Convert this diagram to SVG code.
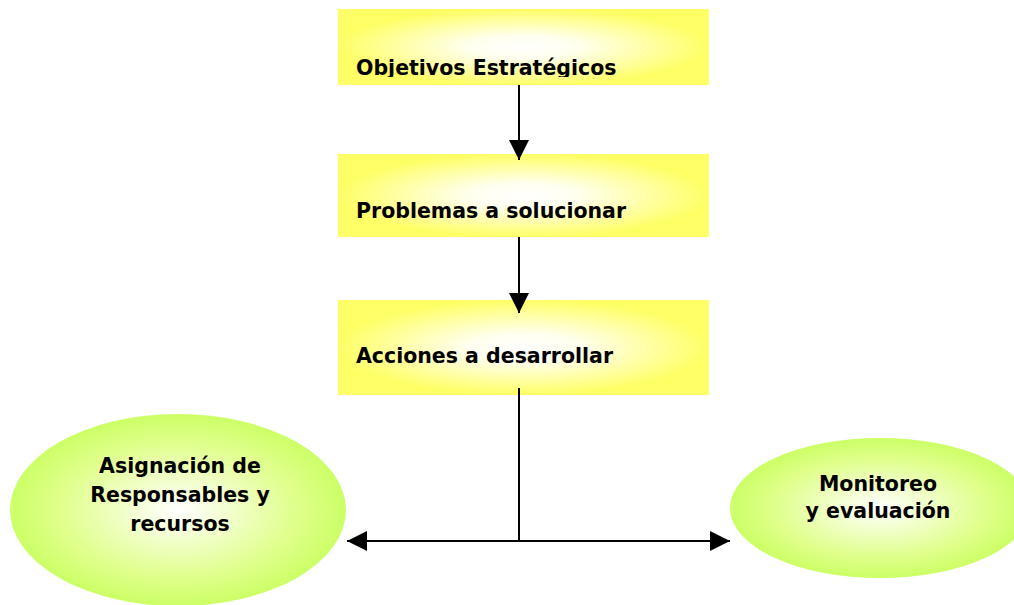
<svg xmlns="http://www.w3.org/2000/svg" width="1014" height="605" viewBox="0 0 1014 605">
<defs>
<radialGradient id="gy" cx="0.5" cy="0.5" r="0.5">
<stop offset="0" stop-color="#ffffff"/>
<stop offset="0.3" stop-color="#ffffee"/>
<stop offset="1" stop-color="#ffff66"/>
</radialGradient>
<radialGradient id="gg" cx="0.5" cy="0.5" r="0.5">
<stop offset="0" stop-color="#ffffff"/>
<stop offset="0.7" stop-color="#e0ff8c"/>
<stop offset="1" stop-color="#ccff66"/>
</radialGradient>
<marker id="ah" viewBox="0 0 10 10" refX="10" refY="5" markerWidth="20" markerHeight="20" markerUnits="userSpaceOnUse" orient="auto">
<path d="M0,0 L10,5 L0,10 Z" fill="#000"/>
</marker>
<clipPath id="c1"><rect x="338" y="9" width="371" height="68"/></clipPath>
</defs>
<style>
.t{font-family:"DejaVu Sans",Verdana,sans-serif;font-weight:bold;font-size:20.5px;fill:#000}
.c{text-anchor:middle}
.l{stroke:#000;stroke-width:2;fill:none}
</style>
<g id="n1">
<rect x="338" y="9" width="371" height="76" fill="url(#gy)"/>
<text class="t" x="356" y="75" clip-path="url(#c1)">Objetivos Estratégicos</text>
</g>
<g id="n2">
<rect x="338" y="154" width="371" height="83" fill="url(#gy)"/>
<text class="t" x="356" y="218">Problemas a solucionar</text>
</g>
<g id="n3">
<rect x="338" y="300" width="371" height="95" fill="url(#gy)"/>
<text class="t" x="356" y="363">Acciones a desarrollar</text>
</g>
<g id="n4">
<ellipse cx="178" cy="510" rx="168" ry="96" fill="url(#gg)"/>
<text class="t c" x="180" y="473">Asignación de</text>
<text class="t c" x="180" y="502">Responsables y</text>
<text class="t c" x="180" y="531">recursos</text>
</g>
<g id="n5">
<ellipse cx="880" cy="508" rx="150" ry="70" fill="url(#gg)"/>
<text class="t c" x="878" y="491">Monitoreo</text>
<text class="t c" x="878" y="518">y evaluación</text>
</g>
<g id="connectors">
<line class="l" x1="519" y1="85" x2="519" y2="160" marker-end="url(#ah)"/>
<line class="l" x1="519" y1="237" x2="519" y2="313" marker-end="url(#ah)"/>
<line class="l" x1="519" y1="388" x2="519" y2="541"/>
<line class="l" x1="519" y1="541" x2="347" y2="541" marker-end="url(#ah)"/>
<line class="l" x1="519" y1="541" x2="730" y2="541" marker-end="url(#ah)"/>
</g>
</svg>
